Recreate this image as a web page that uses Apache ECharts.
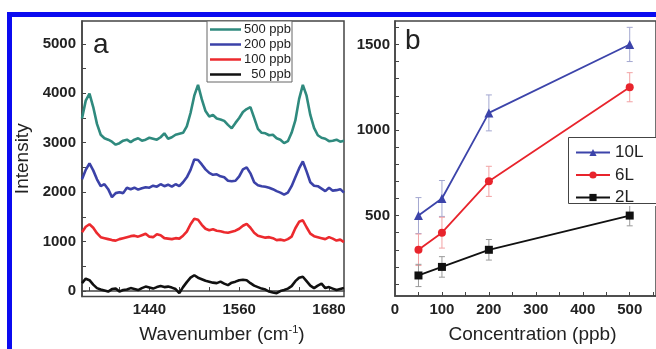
<!DOCTYPE html>
<html>
<head>
<meta charset="utf-8">
<script src="https://cdn.jsdelivr.net/npm/echarts@6/dist/echarts.min.js"></script>
<style>
  html, body { margin: 0; padding: 0; background: #fff; }
  #chart { width: 656px; height: 349px; }
</style>
</head>
<body>
<div id="chart"></div>
<script>
// panel a: Raman spectra, offset by concentration
const wavenumbers = [
  1350, 1355, 1360, 1365, 1370, 1375, 1380, 1385, 1390, 1395,
  1400, 1405, 1410, 1415, 1420, 1425, 1430, 1435, 1440, 1445,
  1450, 1455, 1460, 1465, 1470, 1475, 1480, 1485, 1490, 1495,
  1500, 1505, 1510, 1515, 1520, 1525, 1530, 1535, 1540, 1545,
  1550, 1555, 1560, 1565, 1570, 1575, 1580, 1585, 1590, 1595,
  1600, 1605, 1610, 1615, 1620, 1625, 1630, 1635, 1640, 1645,
  1650, 1655, 1660, 1665, 1670, 1675, 1680, 1685, 1690, 1695, 1700
];
const ppb500 = [
  3490, 3850, 3990, 3720, 3380, 3160, 3090, 3060, 3020, 2960,
  2990, 3040, 3060, 3010, 3060, 3090, 3040, 3060, 3100, 3080,
  3060, 3110, 3190, 3080, 3110, 3160, 3180, 3200, 3330, 3600,
  3950, 4170, 3880, 3640, 3530, 3560, 3490, 3470, 3440, 3360,
  3290, 3400, 3500, 3620, 3680, 3720, 3500, 3280, 3200, 3190,
  3150, 3160, 3090, 3060, 2990, 3030, 3200, 3450, 3880, 4170,
  3950, 3560, 3300, 3150, 3100, 3080, 3030, 3040, 3060, 3020, 3040
];
const ppb200 = [
  2260, 2450, 2580, 2440, 2260, 2120, 2160, 2060, 1900, 1980,
  2000, 1980, 2090, 2060, 2090, 2050, 2080, 2100, 2090, 2130,
  2110, 2160, 2120, 2150, 2110, 2160, 2120, 2200, 2300, 2450,
  2660, 2650, 2560, 2460, 2390, 2350, 2360, 2320, 2300, 2230,
  2220, 2230, 2320, 2460, 2500, 2380, 2200, 2140, 2120, 2110,
  2090, 2060, 2020, 1990, 1950, 1990, 2120, 2300, 2480, 2620,
  2420, 2200, 2130, 2120, 2070, 2020, 2090, 2030, 2040, 2060, 1990
];
const ppb100 = [
  1190, 1300, 1350, 1280, 1170, 1090, 1070, 1050, 1030, 1020,
  1050, 1070, 1090, 1110, 1120, 1100, 1130, 1160, 1100, 1090,
  1150, 1130, 1070, 1060, 1050, 1070, 1060, 1120, 1200, 1350,
  1460, 1440, 1340, 1260, 1230, 1250, 1220, 1210, 1190, 1180,
  1200, 1220, 1260, 1320, 1360, 1280, 1180, 1120, 1100, 1080,
  1090, 1070, 1030, 1040, 1020, 1050, 1100, 1270, 1400, 1430,
  1290, 1160, 1110, 1090, 1070, 1050, 1090, 1060, 1020, 1040, 990
];
const ppb50 = [
  160, 250, 220, 130, 60, 30, 10, -10, 40, 50,
  -10, 20, 30, 60, 40, 20, 60, 90, 70, 50,
  80, 100, 80, 90, 70, 40, -40, 80, 180, 270,
  320, 270, 240, 210, 190, 170, 160, 190, 150, 120,
  170, 190, 220, 230, 220, 160, 110, 80, 50, 30,
  -10, -30, -44, 0, 20, 50, 100, 200, 270, 290,
  200, 110, 60, 110, 150, 60, 80, 50, 20, 40, 60
];
const spectraNames = ['500 ppb', '200 ppb', '100 ppb', '50 ppb'];
const spectraColors = ['#2f8a7e', '#3b42a8', '#ec2a2e', '#111111'];
const wavenumberTicks = [1360, 1400, 1440, 1480, 1520, 1560, 1600, 1640, 1680];
const wavenumberLabels = [1440, 1560, 1680];
const intensityTicks = [0, 500, 1000, 1500, 2000, 2500, 3000, 3500, 4000, 4500, 5000];
const intensityLabels = [0, 1000, 2000, 3000, 4000, 5000];

// panel b: intensity vs concentration
const concentrations = [50, 100, 200, 500];
const vol10L = [500, 600, 1100, 1500];
const vol6L = [300, 400, 700, 1250];
const vol2L = [150, 200, 300, 500];
const err10L = [105, 105, 105, 100];
const err6L = [92, 90, 88, 85];
const err2L = [65, 60, 60, 60];
const concNames = ['10L', '6L', '2L'];
const concColors = ['#3c44aa', '#e8242c', '#111111'];
const errColors = ['#a3a7d0', '#f2a2a4', '#9a9a9a'];
const concLabels = [0, 100, 200, 300, 400, 500];
const concTicks = [50, 100, 150, 200, 250, 300, 350, 400, 450, 500, 550];
const countLabels = [500, 1000, 1500];
const countTicks = [100, 200, 300, 400, 500, 600, 700, 800, 900, 1000, 1100, 1200, 1300, 1400, 1500, 1600];

const chart = echarts.init(document.getElementById('chart'));

const tickFont = { fontFamily: 'Liberation Sans', fontWeight: 'bold', fontSize: 15, color: '#222', formatter: (v) => String(v) };
const axisLine = { show: true, lineStyle: { color: '#444', width: 1.5 } };
const tick = (values) => ({ inside: true, length: 4, customValues: values, lineStyle: { color: '#444' } });

function errorBars(vals, errs, color) {
  return {
    type: 'custom',
    xAxisIndex: 1,
    yAxisIndex: 1,
    silent: true,
    z: 1,
    encode: { x: 0, y: 1 },
    data: concentrations.map((c, i) => [c, vals[i], errs[i]]),
    renderItem: function (params, api) {
      const x = api.value(0), y = api.value(1), e = api.value(2);
      const hi = api.coord([x, y + e]);
      const lo = api.coord([x, y - e]);
      const cap = 3;
      const style = { stroke: color, lineWidth: 1 };
      return {
        type: 'group',
        children: [
          { type: 'line', shape: { x1: hi[0], y1: hi[1], x2: lo[0], y2: lo[1] }, style: style },
          { type: 'line', shape: { x1: hi[0] - cap, y1: hi[1], x2: hi[0] + cap, y2: hi[1] }, style: style },
          { type: 'line', shape: { x1: lo[0] - cap, y1: lo[1], x2: lo[0] + cap, y2: lo[1] }, style: style },
        ],
      };
    },
  };
}

const spectra = [ppb500, ppb200, ppb100, ppb50];
const concSeries = [vol10L, vol6L, vol2L];
const concErrs = [err10L, err6L, err2L];
const concSymbols = ['triangle', 'circle', 'rect'];
const concSymbolSizes = [9, 8, 8];

chart.setOption({
  animation: false,
  backgroundColor: '#fff',
  graphic: [
    { type: 'rect', shape: { x: 7, y: 12, width: 649, height: 5 }, style: { fill: '#0b0bf0' } },
    { type: 'rect', shape: { x: 7, y: 12, width: 5, height: 337 }, style: { fill: '#0b0bf0' } },
    { type: 'text', left: 93, top: 31, style: { text: 'a', fontFamily: 'Liberation Sans', fontSize: 28, fill: '#222' } },
    { type: 'text', left: 405, top: 27, style: { text: 'b', fontFamily: 'Liberation Sans', fontSize: 28, fill: '#222' } },
    // legend frame of panel b runs past the right edge of the picture
    { type: 'rect', z: 5, shape: { x: 568.5, y: 137.5, width: 100, height: 66 }, style: { fill: 'none', stroke: '#444', lineWidth: 1 } },
  ],
  grid: [
    { left: 82, top: 21, width: 262, height: 279, show: true, borderColor: '#444', borderWidth: 1.5 },
    { left: 395, top: 21, width: 265, height: 278, show: true, borderColor: '#444', borderWidth: 1.5 },
  ],
  legend: [
    {
      data: spectraNames,
      orient: 'vertical',
      left: 207,
      top: 21,
      padding: [2, 1, 1, 3],
      icon: 'rect',
      itemWidth: 31,
      itemHeight: 2.5,
      itemGap: 2,
      borderColor: '#666',
      borderWidth: 1,
      backgroundColor: '#fff',
      formatter: '{t|{name}}',
      textStyle: {
        rich: { t: { width: 45, align: 'right', fontFamily: 'Liberation Sans', fontSize: 13, color: '#222', lineHeight: 14 } },
      },
    },
    {
      data: concNames,
      orient: 'vertical',
      left: 568,
      top: 137,
      padding: [7, 20, 0, 7],
      itemWidth: 34,
      itemHeight: 9,
      itemGap: 5.5,
      backgroundColor: '#fff',
      textStyle: { fontFamily: 'Liberation Sans', fontSize: 17, color: '#222', lineHeight: 16 },
    },
  ],
  xAxis: [
    {
      type: 'value',
      gridIndex: 0,
      min: 1350,
      max: 1700,
      splitLine: { show: false },
      axisLine: axisLine,
      axisTick: tick(wavenumberTicks),
      axisLabel: Object.assign({ customValues: wavenumberLabels, margin: 6 }, tickFont),
      name: '{a|Wavenumber (cm}{s|-1}{a|)}',
      nameLocation: 'middle',
      nameGap: 28,
      nameTextStyle: {
        padding: [0, 0, 0, 18],
        rich: {
          a: { fontFamily: 'Liberation Sans', fontSize: 19, color: '#222' },
          s: { fontFamily: 'Liberation Sans', fontSize: 11, color: '#222', padding: [0, 0, 9, 0] },
        },
      },
    },
    {
      type: 'value',
      gridIndex: 1,
      min: 0,
      max: 556,
      splitLine: { show: false },
      axisLine: axisLine,
      axisTick: tick(concTicks),
      axisLabel: Object.assign({ customValues: concLabels, margin: 6 }, tickFont),
      name: 'Concentration (ppb)',
      nameLocation: 'middle',
      nameGap: 29,
      nameTextStyle: { fontFamily: 'Liberation Sans', fontSize: 19, color: '#222', padding: [0, 0, 0, 14] },
    },
  ],
  yAxis: [
    {
      type: 'value',
      gridIndex: 0,
      min: -110,
      max: 5460,
      splitLine: { show: false },
      axisLine: axisLine,
      axisTick: tick(intensityTicks),
      axisLabel: Object.assign({ customValues: intensityLabels, margin: 6 }, tickFont),
      name: 'Intensity',
      nameLocation: 'middle',
      nameGap: 50,
      nameTextStyle: { fontFamily: 'Liberation Sans', fontSize: 19, color: '#222' },
    },
    {
      type: 'value',
      gridIndex: 1,
      min: 30,
      max: 1637,
      splitLine: { show: false },
      axisLine: axisLine,
      axisTick: tick(countTicks),
      axisLabel: Object.assign({ customValues: countLabels, margin: 5 }, tickFont),
    },
  ],
  series: [
    ...spectra.map((vals, i) => ({
      name: spectraNames[i],
      type: 'line',
      xAxisIndex: 0,
      yAxisIndex: 0,
      data: wavenumbers.map((w, j) => [w, vals[j]]),
      showSymbol: false,
      symbol: 'none',
      lineStyle: { color: spectraColors[i], width: 2.6 },
      itemStyle: { color: spectraColors[i] },
    })),
    ...concSeries.map((vals, i) => errorBars(vals, concErrs[i], errColors[i])),
    ...concSeries.map((vals, i) => ({
      name: concNames[i],
      type: 'line',
      xAxisIndex: 1,
      yAxisIndex: 1,
      z: 3,
      data: concentrations.map((c, j) => [c, vals[j]]),
      symbol: concSymbols[i],
      symbolSize: concSymbolSizes[i],
      lineStyle: { color: concColors[i], width: 1.8 },
      itemStyle: { color: concColors[i] },
    })),
  ],
});
</script>
</body>
</html>
